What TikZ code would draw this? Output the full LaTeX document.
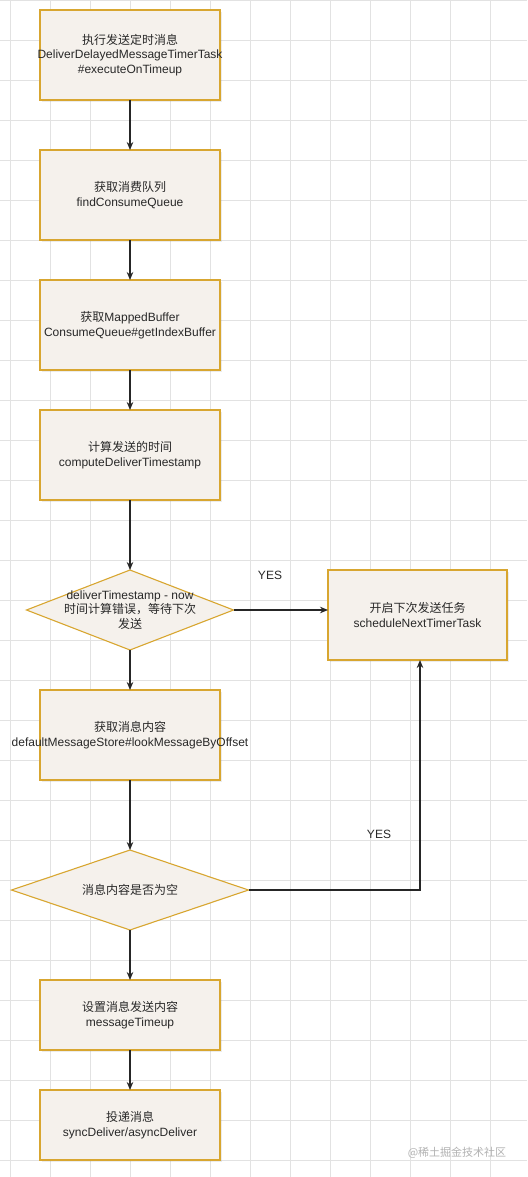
\documentclass[tikz,border=0pt]{standalone}
\usepackage{fontspec}
\setmainfont{Liberation Sans}
\newfontfamily\cjk{Noto Sans CJK SC}
\usetikzlibrary{shapes.geometric,positioning,arrows.meta,shadows}

\definecolor{paper}{RGB}{245,241,236}
\definecolor{gold}{RGB}{216,166,48}
\definecolor{txt}{RGB}{40,40,40}
\definecolor{gridcol}{RGB}{226,226,226}

\begin{document}
\begin{tikzpicture}[x=1pt,y=-1pt,
  >={Stealth[open,length=8pt,width=6.5pt]},
  every node/.style={font=\fontsize{12}{14.5}\selectfont,text=txt},
  stepbox/.style={draw=gold,fill=paper,line width=1.1pt,minimum width=180pt,
    minimum height=90pt,align=center,inner sep=2pt,outer sep=0pt,
    drop shadow={opacity=0.15,shadow xshift=2pt,shadow yshift=-2pt}},
  decision/.style={diamond,draw=gold,fill=paper,line width=1.1pt,inner sep=0pt,outer sep=0pt},
  link/.style={->,line width=1.3pt,black!85},
  ]
	\useasboundingbox (0,0) rectangle (527,1177);
	\fill[white] (0,0) rectangle (527,1177);
	\foreach \gx in {10,50,...,527} \draw[gridcol,line width=0.7pt] (\gx,0) -- (\gx,1177);
	\foreach \gy in {0,40,...,1177} \draw[gridcol,line width=0.7pt] (0,\gy) -- (527,\gy);

	\node [stepbox] (timer) at (130,55) {{\cjk 执行发送定时消息}\\\makebox[0pt][c]{DeliverDelayedMessageTimerTask}\\\#executeOnTimeup} ;
	\node [stepbox,below=50pt of timer] (findcq) {{\cjk 获取消费队列}\\findConsumeQueue} ;
	\node [stepbox,below=40pt of findcq] (indexbuf) {{\cjk 获取}MappedBuffer\\ConsumeQueue\#getIndexBuffer} ;
	\node [stepbox,below=40pt of indexbuf] (deliverts) {{\cjk 计算发送的时间}\\computeDeliverTimestamp} ;
	\node [decision,minimum width=207pt,minimum height=80pt,below=70pt of deliverts] (tscheck) {} ;
	\node [align=center] (tstext) at (tscheck) {deliverTimestamp - now\\{\cjk 时间计算错误，等待下次}\\{\cjk 发送}} ;
	\node [stepbox,minimum width=179pt,anchor=north west] (nexttask) at (328,570) {{\cjk 开启下次发送任务}\\scheduleNextTimerTask} ;
	\node [stepbox,below=40pt of tscheck] (lookmsg) {{\cjk 获取消息内容}\\\makebox[0pt][c]{defaultMessageStore\#lookMessageByOffset}} ;
	\node [decision,minimum width=237pt,minimum height=80pt,below=70pt of lookmsg] (emptycheck) {} ;
	\node (emptytext) at (emptycheck) {\cjk 消息内容是否为空} ;
	\node [stepbox,minimum height=70pt,below=50pt of emptycheck] (timeup) {{\cjk 设置消息发送内容}\\messageTimeup} ;
	\node [stepbox,minimum height=70pt,below=40pt of timeup] (deliver) {{\cjk 投递消息}\\syncDeliver/asyncDeliver} ;

	\node (yes1) at (270,575) {YES} ;
	\node (yes2) at (379,834) {YES} ;
	\node [font=\fontsize{11}{12}\selectfont,text=black!30] (mark) at (457,1153) {\cjk @稀土掘金技术社区} ;

	\draw [link] (timer) -- (findcq) ;
	\draw [link] (findcq) -- (indexbuf) ;
	\draw [link] (indexbuf) -- (deliverts) ;
	\draw [link] (deliverts) -- (tscheck) ;
	\draw [link] (tscheck.east) -- (tscheck.east -| nexttask.west) ;
	\draw [link] (tscheck) -- (lookmsg) ;
	\draw [link] (lookmsg) -- (emptycheck) ;
	\draw [link] (emptycheck.east) -| ([xshift=2.5pt]nexttask.south) ;
	\draw [link] (emptycheck) -- (timeup) ;
	\draw [link] (timeup) -- (deliver) ;
\end{tikzpicture}
\end{document}
